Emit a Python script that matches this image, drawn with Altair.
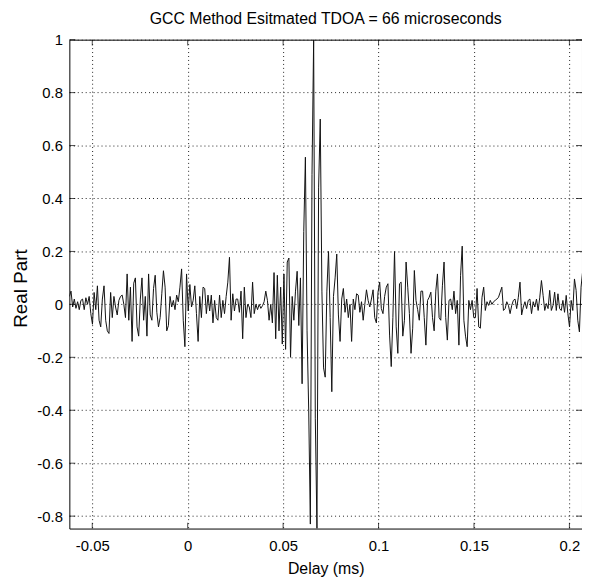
import altair as alt
import pandas as pd

TITLE = "GCC Method Esitmated TDOA = 66 microseconds"
X_LABEL = "Delay (ms)"
Y_LABEL = "Real Part"

x_ticks = [-0.05, 0, 0.05, 0.1, 0.15, 0.2]
y_ticks = [-0.8, -0.6, -0.4, -0.2, 0, 0.2, 0.4, 0.6, 0.8, 1]
x_domain = [-0.062, 0.2066]
y_domain = [-0.847, 1.0]

delay_start = -0.062   # first sample (ms)
peak_delay = 0.066     # estimated TDOA (ms)

# Real part of the GCC output, read left to right from the picture
seg_a = [0.03, 0.05, -0.01, 0.02, -0.015, 0.01, -0.02, 0.015, 0.02, -0.02, 0.025, 0.0,
         0.03, -0.035, -0.075, 0.045, -0.02, 0.07, -0.06, -0.085, 0.02, 0.07, -0.06, -0.1,
         -0.11, 0.045, -0.05, 0.03, -0.01, -0.04, 0.015, 0.03, 0.035, 0.0, -0.05, 0.115,
         -0.06, 0.065, -0.14, 0.08, 0.10, -0.085, -0.12, 0.02, 0.10, -0.06, 0.03, -0.12,
         0.115, -0.04, -0.06, 0.06, 0.11, -0.03, -0.085, -0.05, 0.04, 0.127, 0.065, -0.1,
         -0.08, 0.03, -0.01, 0.015, -0.02, 0.035, 0.01]
seg_b = [0.065, 0.134, -0.06, -0.16, 0.115, -0.025, 0.075, -0.01, 0.015, 0.07, -0.035,
         -0.14, 0.03, -0.05, 0.065, 0.06, -0.035, 0.035, -0.025, 0.035, -0.07, 0.015, -0.05,
         -0.06, 0.035, -0.05, 0.015, -0.035, 0.03, 0.084, 0.178, -0.06, 0.04, -0.025, 0.02,
         0.02, -0.03, 0.05, -0.13, 0.065, -0.05, 0.0, -0.01, -0.05, 0.084, -0.035, 0.0,
         -0.02, 0.0, -0.015, -0.005, 0.01, 0.05, 0.015, -0.06, 0.0, -0.07, 0.12, -0.13,
         0.11, -0.1, 0.065, -0.15, 0.115, -0.17, 0.16]
seg_c = [0.175, -0.20, 0.03, -0.06, 0.05, 0.125, -0.08, 0.10, -0.30, 0.275, 0.556, -0.10,
         -0.40, -0.83, 0.49, 1.00, -0.43, -0.847, 0.44, 0.70, 0.05, -0.24, -0.275, 0.05,
         0.20, -0.05, -0.33, 0.03, 0.10, 0.19, -0.04, -0.14, 0.02, 0.06, -0.03, 0.02,
         -0.05, 0.0, -0.14, 0.02, -0.02, 0.04, 0.035, -0.03, 0.01]
seg_d = [-0.06, 0.0, 0.055, 0.015, -0.01, 0.02, 0.055, -0.05, -0.07, 0.046, 0.084, -0.016,
         -0.035, 0.03, 0.065, 0.078, -0.116, -0.235, -0.05, 0.20, -0.085, -0.185, 0.078,
         0.084, -0.12, -0.06, 0.16, 0.065, -0.035, -0.185, -0.09, 0.128, 0.015, -0.02,
         -0.06, 0.05, 0.05, -0.05, -0.154, 0.015, 0.027, 0.046, -0.05, -0.1, 0.05, 0.115,
         -0.05, -0.06, 0.07, 0.16, -0.05, -0.135, 0.015, 0.02, -0.02, 0.05, -0.035, 0.015,
         -0.154, 0.11, 0.22, -0.06, -0.12, -0.16, 0.015, -0.02, 0.015, -0.05]
seg_e = [-0.05, 0.06, -0.085, -0.09, 0.027, 0.065, -0.023, 0.01, -0.004, 0.015, 0.0, 0.01,
         0.015, 0.02, 0.027, 0.046, 0.065, -0.023, -0.016, 0.01, -0.004, -0.035, -0.004,
         0.015, 0.02, -0.016, 0.027, 0.084, -0.04, -0.01, 0.01, -0.016, 0.015, 0.02, -0.035,
         0.01, -0.01, 0.02, -0.023, 0.027, 0.09, 0.034, -0.023, 0.003, -0.016, 0.053,
         -0.023, -0.004, 0.046, -0.023, 0.04, -0.016, -0.023, 0.015, -0.03, 0.034, -0.035,
         -0.085, 0.015, -0.023, 0.096, 0.053, -0.06, -0.104, 0.065, 0.128]

values = seg_a + seg_b + seg_c + seg_d + seg_e
peak_index = values.index(max(values))
step = (peak_delay - delay_start) / peak_index
df = pd.DataFrame({
    "delay": [delay_start + i * step for i in range(len(values))],
    "real": values,
})

W, H = 518, 494
FONT = "Liberation Sans"

xscale = alt.Scale(domain=x_domain, nice=False, zero=False)
yscale = alt.Scale(domain=y_domain, nice=False, zero=False)

num_expr = "datum.value < 0 ? '-' + format(-datum.value, '') : format(datum.value, '')"

x_axis = alt.Axis(values=x_ticks, title=X_LABEL, grid=True, gridDash=[1, 3],
                  gridColor="#222222", gridWidth=1, ticks=False, tickSize=0,
                  domain=False, labelFont=FONT, labelFontSize=15,
                  labelColor="black", labelBaseline="alphabetic", labelPadding=22,
                  labelExpr=num_expr, labelFlush=False,
                  titleFont=FONT, titleFontSize=16, titleFontWeight="normal",
                  titleColor="black", titleBaseline="alphabetic", titleY=45)
y_axis = alt.Axis(values=y_ticks, title=Y_LABEL, grid=True, gridDash=[1, 3],
                  gridColor="#222222", gridWidth=1, ticks=False, tickSize=0,
                  domain=False, labelFont=FONT, labelFontSize=15,
                  labelColor="black", labelPadding=7, labelExpr=num_expr,
                  labelFlush=False,
                  titleFont=FONT, titleFontSize=19, titleFontWeight="normal",
                  titleColor="black", titleAngle=270, titleAlign="center",
                  titleBaseline="alphabetic", titleX=-43, titleY=251)

line = alt.Chart(df).mark_line(color="#111111", strokeWidth=1, clip=True).encode(
    x=alt.X("delay:Q", scale=xscale, axis=x_axis),
    y=alt.Y("real:Q", scale=yscale, axis=y_axis),
)

xt = pd.DataFrame({"delay": x_ticks})
yt = pd.DataFrame({"real": y_ticks})

def xtick(ypix):
    return alt.Chart(xt).mark_tick(color="black", size=6, thickness=1, orient="vertical").encode(
        x=alt.X("delay:Q", scale=xscale, axis=x_axis), y=alt.value(ypix))

def ytick(xpix):
    return alt.Chart(yt).mark_tick(color="black", size=6, thickness=1, orient="horizontal").encode(
        y=alt.Y("real:Q", scale=yscale, axis=y_axis), x=alt.value(xpix))

chart = alt.layer(
    line, xtick(H - 3), xtick(3), ytick(3), ytick(W - 3)
).properties(
    width=W, height=H,
    title=alt.TitleParams(TITLE, font=FONT, fontSize=16, fontWeight="normal",
                          color="black", anchor="middle", frame="group",
                          baseline="alphabetic", offset=13, dy=20),
    autosize=alt.AutoSizeParams(type="none"),
    padding={"left": 62, "top": 29, "right": 0, "bottom": 52},
).configure(
    background="white",
    view=alt.ViewConfig(stroke="black", strokeWidth=1),
)

chart.save("out.html", embed_options={"renderer": "svg", "actions": False})
